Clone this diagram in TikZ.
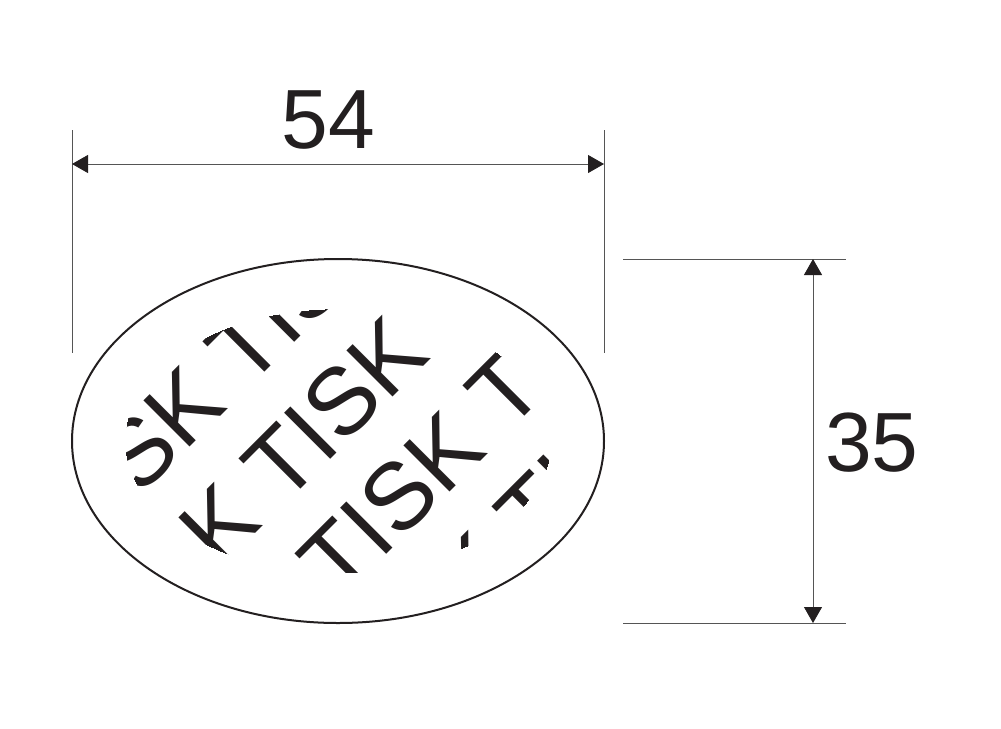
\documentclass[tikz,border=0pt]{standalone}
\usepackage{fontspec}
\setmainfont{Liberation Sans}
\usetikzlibrary{arrows.meta}
\definecolor{ink}{RGB}{35,31,32}
\definecolor{dimgray}{RGB}{85,85,85}
\begin{document}
\begin{tikzpicture}[x=1pt,y=-1pt,
  dimline/.style={draw=dimgray, line width=0.8pt},
  dimarrow/.style={dimline, {Triangle[length=16pt,width=18pt,color=ink]}-{Triangle[length=16pt,width=18pt,color=ink]}},
  dimlabel/.style={font=\fontsize{84}{90}\selectfont, text=ink, inner sep=0pt, outer sep=0pt},
  pattern/.style={font=\fontsize{94.8}{100}\selectfont, text=ink, inner sep=0pt, outer sep=0pt, anchor=base west, rotate=45},
  outline/.style={draw=ink, line width=2pt}]
\useasboundingbox (0,0) rectangle (1001,728);
\fill[white] (0,0) rectangle (1001,728);
% outer ellipse
\draw[outline] (338,441) ellipse [x radius=266pt, y radius=182pt];
% clipped text pattern
\begin{scope}
  \clip (338,441) ellipse [x radius=213pt, y radius=132pt];
  \node[pattern] (rowA) at (139.9,497.5) {SK TIS};
  \node[pattern] (rowB) at (219.8,569.6) {K TISK};
  \node[pattern] (rowC) at (339.8,601.3) {TISK T};
  \node[pattern] (rowD) at (473.1,617.9) {K TI};
\end{scope}
% horizontal dimension
\coordinate (hl) at (72,164);
\coordinate (hr) at (604,164);
\coordinate (hlt) at (72,130);
\coordinate (hlb) at (72,353);
\coordinate (hrt) at (604,130);
\coordinate (hrb) at (604,353);
\draw[dimline] (hlt) -- (hlb);
\draw[dimline] (hrt) -- (hrb);
\draw[dimarrow] (hl) -- (hr);
\node[dimlabel] (w) at (328.5,120) {54};
% vertical dimension
\coordinate (vt) at (813,259);
\coordinate (vb) at (813,623);
\coordinate (vtl) at (623,259);
\coordinate (vtr) at (846,259);
\coordinate (vbl) at (623,623);
\coordinate (vbr) at (846,623);
\draw[dimline] (vtl) -- (vtr);
\draw[dimline] (vbl) -- (vbr);
\draw[dimarrow] (vt) -- (vb);
\node[dimlabel] (h) at (872,443) {35};
\end{tikzpicture}
\end{document}
